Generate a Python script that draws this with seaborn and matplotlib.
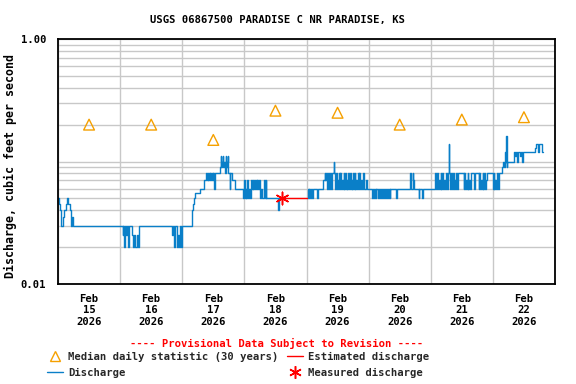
import numpy as np
import pandas as pd
import matplotlib
matplotlib.use("Agg")
import matplotlib.pyplot as plt
import matplotlib.dates as mdates
from matplotlib.ticker import FixedLocator, FixedFormatter, LogLocator, NullFormatter
from matplotlib.lines import Line2D
import seaborn as sns

sns.set_theme(style="white")
plt.rcParams['font.family'] = ['DejaVu Sans Mono', 'DejaVu Sans']
plt.rcParams['font.weight'] = 'bold'

# discharge readings, (hours after Feb 15 00:00, cfs), step changes only
feb15 = [(0.0, 0.05), (0.4, 0.045), (0.9, 0.04), (1.2, 0.03), (1.8, 0.035), (2.2, 0.04),
         (3.2, 0.045), (3.6, 0.05), (4.0, 0.045), (4.5, 0.04), (4.9, 0.03), (5.3, 0.035),
         (5.7, 0.03)]
feb16 = [(25.0, 0.025), (25.3, 0.03), (25.6, 0.02), (25.9, 0.03), (26.3, 0.025), (26.6, 0.03),
         (27.2, 0.02), (27.6, 0.03), (28.4, 0.025), (28.8, 0.02), (29.2, 0.025), (29.6, 0.02),
         (30.4, 0.025), (30.8, 0.02), (31.2, 0.03),
         (44.2, 0.025), (44.5, 0.03), (44.7, 0.02), (45.1, 0.03), (46.0, 0.02), (46.4, 0.025),
         (46.8, 0.02), (47.3, 0.03), (47.6, 0.02), (48.0, 0.03)]
feb17 = [(51.6, 0.04), (52.0, 0.045), (52.4, 0.05), (53.0, 0.055), (55.0, 0.06), (56.5, 0.07),
         (57.2, 0.08), (57.5, 0.07), (57.8, 0.08), (58.0, 0.07), (58.3, 0.08), (58.6, 0.07),
         (58.9, 0.08), (59.2, 0.07), (59.4, 0.08), (59.7, 0.07), (60.0, 0.08), (60.3, 0.06),
         (60.5, 0.08), (62.5, 0.09), (62.8, 0.11), (63.0, 0.09), (63.3, 0.10), (63.6, 0.11),
         (63.8, 0.09), (64.1, 0.10), (64.4, 0.08), (64.8, 0.11), (65.0, 0.09), (65.3, 0.10),
         (65.6, 0.11), (65.8, 0.08), (66.3, 0.06), (66.5, 0.08), (67.1, 0.07), (68.4, 0.06),
         (71.5, 0.05), (71.8, 0.07)]
feb18 = [(72.1, 0.05), (72.5, 0.06), (72.8, 0.05), (73.1, 0.07), (73.4, 0.05), (73.8, 0.06),
         (74.1, 0.05), (74.5, 0.07), (74.9, 0.06), (75.2, 0.07), (75.5, 0.06), (75.8, 0.07),
         (76.1, 0.06), (76.4, 0.07), (76.7, 0.06), (77.0, 0.07), (77.3, 0.06), (77.6, 0.07),
         (78.1, 0.05), (78.6, 0.06), (78.9, 0.05), (79.5, 0.07), (79.8, 0.05), (80.2, 0.07),
         (80.5, 0.05), (85.0, 0.04), (85.3, 0.05), (86.4, 0.05)]
feb19 = [(96.1, 0.05), (96.5, 0.06), (96.8, 0.05), (97.1, 0.06), (97.4, 0.05), (97.7, 0.06),
         (98.0, 0.05), (98.4, 0.06), (100.1, 0.05), (100.5, 0.06), (102.5, 0.07), (103.0, 0.08),
         (103.3, 0.07), (103.6, 0.08), (103.9, 0.06), (104.2, 0.08), (104.5, 0.07), (104.8, 0.06),
         (105.1, 0.08), (105.4, 0.06), (105.7, 0.07), (106.0, 0.08), (106.5, 0.10), (106.7, 0.08),
         (107.0, 0.06), (107.3, 0.08), (107.6, 0.06), (107.9, 0.07), (108.2, 0.06), (108.5, 0.08),
         (108.8, 0.06), (109.1, 0.08), (109.4, 0.06), (109.7, 0.07), (110.0, 0.06), (110.3, 0.08),
         (110.6, 0.06), (110.9, 0.08), (111.2, 0.06), (111.5, 0.07), (111.8, 0.06), (112.2, 0.08),
         (112.5, 0.06), (112.8, 0.08), (113.1, 0.06), (113.4, 0.07), (113.7, 0.06), (114.0, 0.08),
         (114.3, 0.06), (114.6, 0.08), (114.9, 0.06), (115.2, 0.07), (115.5, 0.06), (115.8, 0.08),
         (116.1, 0.06), (116.4, 0.08), (116.7, 0.06), (117.2, 0.07), (117.6, 0.06), (118.0, 0.08),
         (118.4, 0.06), (119.0, 0.07), (119.4, 0.06)]
feb20 = [(121.4, 0.05), (121.7, 0.06), (122.0, 0.05), (122.4, 0.06), (122.7, 0.05), (123.0, 0.06),
         (123.5, 0.05), (124.0, 0.06), (124.4, 0.05), (124.7, 0.06), (125.0, 0.05), (125.4, 0.06),
         (126.0, 0.05), (126.3, 0.06), (126.6, 0.05), (127.0, 0.06), (127.4, 0.05), (127.7, 0.06),
         (128.1, 0.05), (128.4, 0.06), (130.7, 0.05), (131.0, 0.06), (135.8, 0.07), (136.1, 0.08),
         (136.4, 0.06), (137.0, 0.08), (137.3, 0.07), (137.7, 0.06), (139.3, 0.05), (139.6, 0.06),
         (140.6, 0.05), (141.0, 0.06), (145.7, 0.08), (146.0, 0.06), (146.4, 0.08), (146.7, 0.06),
         (147.0, 0.07), (147.4, 0.06), (147.8, 0.08), (148.1, 0.06), (148.5, 0.08), (148.8, 0.06),
         (149.2, 0.07), (149.6, 0.06), (150.0, 0.08), (150.3, 0.06), (150.7, 0.08), (151.0, 0.14),
         (151.2, 0.08)]
feb21 = [(151.5, 0.06), (151.8, 0.08), (152.1, 0.06), (152.5, 0.08), (152.8, 0.06), (153.1, 0.07),
         (153.4, 0.06), (153.8, 0.08), (154.1, 0.06), (154.4, 0.08), (156.7, 0.06), (157.0, 0.08),
         (157.3, 0.06), (157.6, 0.07), (157.9, 0.06), (158.2, 0.08), (158.5, 0.06), (158.8, 0.07),
         (159.1, 0.06), (159.6, 0.08), (160.8, 0.06), (161.1, 0.08), (162.5, 0.06), (162.8, 0.08),
         (163.1, 0.06), (163.4, 0.07), (163.7, 0.06), (164.0, 0.08), (164.3, 0.06), (164.6, 0.08),
         (165.0, 0.06), (165.3, 0.07), (165.7, 0.08), (168.0, 0.06), (168.3, 0.08), (168.6, 0.06),
         (168.9, 0.07), (169.2, 0.06), (169.6, 0.08), (170.0, 0.06), (170.3, 0.08), (171.7, 0.09)]
feb22 = [(172.0, 0.10), (172.4, 0.09), (172.7, 0.12), (172.9, 0.10), (173.1, 0.16), (173.3, 0.09),
         (173.5, 0.10), (176.0, 0.12), (176.5, 0.11), (176.8, 0.12), (177.2, 0.10), (177.6, 0.12),
         (178.4, 0.11), (178.8, 0.12), (179.4, 0.10), (179.8, 0.12), (184.4, 0.13), (184.8, 0.14),
         (185.6, 0.12), (185.9, 0.14), (186.8, 0.12), (187.2, 0.12)]

# estimated discharge (gap in record) and the field measurement
estimated = [(86.4, 0.05), (96.1, 0.05)]
measured = [(86.5, 0.05)]

# median daily statistic (30 years), at noon of each day
median_days = ["2026-02-15", "2026-02-16", "2026-02-17", "2026-02-18",
               "2026-02-19", "2026-02-20", "2026-02-21", "2026-02-22"]
median_cfs = [0.20, 0.20, 0.15, 0.26, 0.25, 0.20, 0.22, 0.23]

start = pd.Timestamp("2026-02-15")
blue = "#0a7fc8"
orange = "#f5a000"
red = "#ff0000"


def to_frame(pairs, seg):
    h, v = zip(*pairs)
    return pd.DataFrame({"time": start + pd.to_timedelta(h, unit="h"), "cfs": v, "segment": seg})


df = pd.concat([to_frame(feb15 + feb16 + feb17 + feb18, 0),
                to_frame(feb19 + feb20 + feb21 + feb22, 1)], ignore_index=True)
df_est = to_frame(estimated, 0)
df_meas = to_frame(measured, 0)
df_med = pd.DataFrame({"time": pd.to_datetime(median_days) + pd.Timedelta(hours=12),
                       "cfs": median_cfs})

fig = plt.figure(figsize=(5.76, 3.84), dpi=100)
ax = fig.add_axes([58 / 576, 1 - 284 / 384, 497 / 576, 245 / 384])

sns.lineplot(data=df, x="time", y="cfs", units="segment", estimator=None,
             drawstyle="steps-post", color=blue, lw=1.0, ax=ax)
sns.lineplot(data=df_est, x="time", y="cfs", estimator=None, drawstyle="steps-post",
             color=red, lw=1.0, ax=ax)
sns.scatterplot(data=df_med, x="time", y="cfs", marker="^", s=60, facecolor="none",
                edgecolor=orange, linewidth=1.0, ax=ax, zorder=4)
sns.scatterplot(data=df_meas, x="time", y="cfs", marker=(6, 2, 0), s=80, color=red,
                edgecolor=red, linewidth=1.1, ax=ax, zorder=5)

ax.set_yscale("log")
ax.set_ylim(0.01, 1.0)
ax.yaxis.set_major_locator(FixedLocator([0.01, 0.1, 1.0]))
ax.yaxis.set_major_formatter(FixedFormatter(["0.01", "", "1.00"]))
ax.yaxis.set_minor_locator(LogLocator(base=10, subs=np.arange(2, 10)))
ax.yaxis.set_minor_formatter(NullFormatter())

ax.set_xlim(start, start + pd.Timedelta(days=8))
ax.xaxis.set_major_locator(mdates.HourLocator(byhour=12))
ax.xaxis.set_major_formatter(mdates.DateFormatter("%b\n%d\n%Y"))
ax.xaxis.set_minor_locator(mdates.DayLocator())

ax.grid(False)
ax.grid(axis="y", which="both", color="#c8c8c8", lw=1.0)
ax.grid(axis="x", which="minor", color="#c8c8c8", lw=1.0)
ax.set_axisbelow(True)

for s in ax.spines.values():
    s.set_color("black")
    s.set_linewidth(1.3)

ax.tick_params(axis="both", which="both", length=0, labelsize=7.6, colors="black")
ax.tick_params(axis="x", pad=7)
ax.tick_params(axis="y", pad=8.5)
for lab in ax.get_xticklabels() + ax.get_yticklabels():
    lab.set_fontweight("bold")

ax.set_xlabel("")
ax.set_ylabel("Discharge, cubic feet per second", fontsize=8.4, fontweight="bold",
              color="black")
ax.yaxis.set_label_coords((17 - 58) / 497, (284 - 165.5) / 245)

fig.text(277 / 576, 1 - 20 / 384, "USGS 06867500 PARADISE C NR PARADISE, KS",
         ha="center", va="center", fontsize=7.6, fontweight="bold", color="black")
fig.text(277 / 576, 1 - 343 / 384, "---- Provisional Data Subject to Revision ----",
         ha="center", va="center", fontsize=7.6, fontweight="bold", color=red)

handles = [Line2D([], [], marker="^", ls="none", mfc="none", mec=orange, ms=7, mew=1.0),
           Line2D([], [], color=blue, lw=1.0),
           Line2D([], [], color=red, lw=1.0),
           Line2D([], [], marker=(6, 2, 0), ls="none", color=red, ms=9, mew=1.1)]
labels = ["Median daily statistic (30 years)", "Discharge",
          "Estimated discharge", "Measured discharge"]
fig.legend(handles, labels, ncol=2, loc="upper left", bbox_to_anchor=(47 / 576, 1 - 352 / 384),
           frameon=False, handlelength=1.5, handletextpad=0.5, columnspacing=0.8,
           borderpad=0, borderaxespad=0, labelspacing=0.55,
           prop={"family": "DejaVu Sans Mono", "weight": "bold", "size": 7.6})

fig.savefig("out.png", dpi=100)
